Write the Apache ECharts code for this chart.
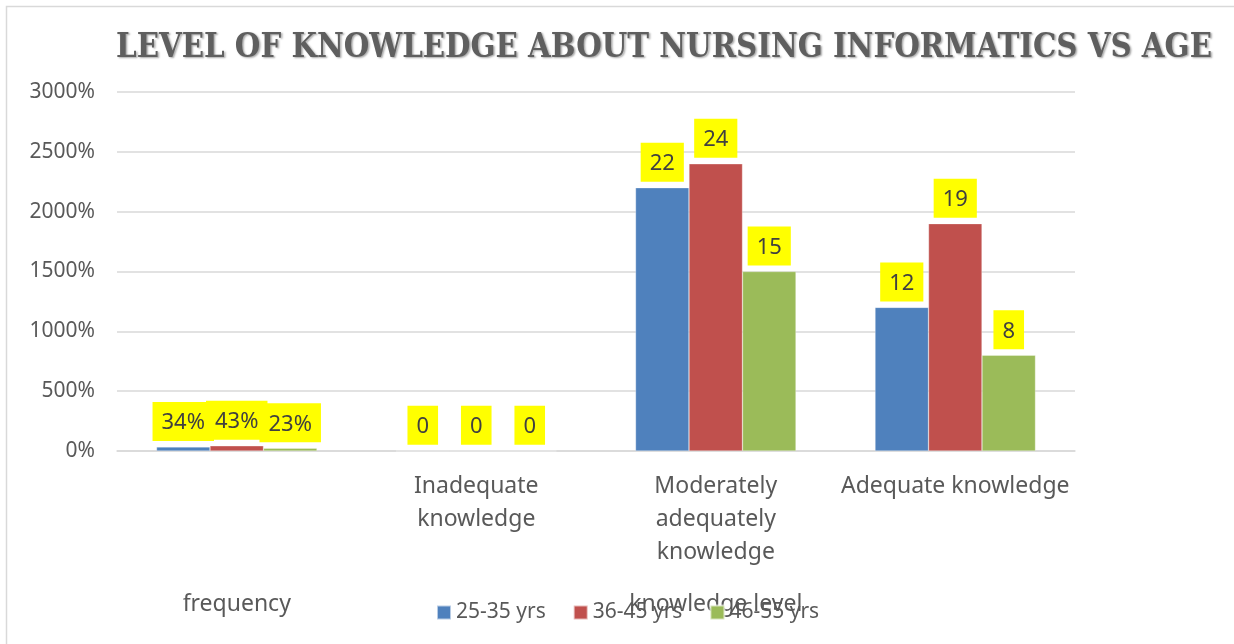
<!DOCTYPE html>
<html>
<head>
<meta charset="utf-8">
<script src="https://cdn.jsdelivr.net/npm/echarts@6/dist/echarts.min.js"></script>
<style>
  html, body { margin: 0; padding: 0; background: #fff; }
  #main { width: 1234px; height: 644px; }
</style>
</head>
<body>
<div id="main"></div>
<script>
// 数据
var categories = ['', 'Inadequate\nknowledge', 'Moderately\nadequately\nknowledge', 'Adequate knowledge'];
var groupLabels = ['frequency', '', 'knowledge level', ''];
var seriesNames = ['25-35 yrs', '36-45 yrs', '46-55 yrs'];
var age25to35 = [0.34, 0, 22, 12];
var age36to45 = [0.43, 0, 24, 19];
var age46to55 = [0.23, 0, 15, 8];

var colors = ['#4F81BD', '#C0504D', '#9BBB59'];
var textColor = '#595959';

var myChart = echarts.init(document.getElementById('main'));

// 第一组是百分比, 其他是人数
function labelText(p) {
    if (p.dataIndex === 0) return Math.round(p.value * 100) + '%';
    return String(p.value);
}

function makeSeries(name, data) {
    return {
        name: name,
        type: 'bar',
        data: data,
        barGap: '0%',
        barCategoryGap: '33%',
        itemStyle: { borderColor: 'rgba(255,255,255,0.6)', borderWidth: 0.5 },
        label: {
            show: true,
            position: 'top',
            distance: 6,
            formatter: labelText,
            backgroundColor: '#FFFF00',
            padding: [10, 9, 7, 9],
            color: '#404040',
            fontSize: 22,
            fontFamily: 'Noto Sans'
        }
    };
}

var option = {
    backgroundColor: '#fff',
    color: colors,
    textStyle: { fontFamily: 'Noto Sans', color: textColor },
    title: {
        text: 'LEVEL OF KNOWLEDGE ABOUT NURSING INFORMATICS VS AGE',
        left: 659,
        textAlign: 'center',
        top: 27,
        textStyle: {
            fontFamily: 'DejaVu Serif Condensed',
            fontWeight: 'bold',
            fontSize: 32.6,
            color: '#5f5f5f',
            textShadowColor: 'rgba(0,0,0,0.35)',
            textShadowBlur: 2,
            textShadowOffsetX: 1.5,
            textShadowOffsetY: 1.5
        }
    },
    legend: {
        data: seriesNames,
        left: 431,
        top: 597,
        itemWidth: 14,
        itemHeight: 14,
        itemGap: 27,
        icon: 'rect',
        textStyle: { fontSize: 21, color: textColor, fontFamily: 'Noto Sans' }
    },
    grid: {
        left: 117,
        right: 159,
        top: 92,
        bottom: 193
    },
    xAxis: [
        {
            type: 'category',
            data: categories,
            axisLine: { lineStyle: { color: '#D9D9D9', width: 1.5 } },
            axisTick: { show: false },
            axisLabel: {
                interval: 0,
                margin: 19,
                fontSize: 23,
                lineHeight: 33,
                color: textColor
            }
        },
        {
            type: 'category',
            position: 'bottom',
            offset: 134,
            data: groupLabels,
            axisLine: { show: false },
            axisTick: { show: false },
            axisLabel: { interval: 0, fontSize: 23, color: textColor }
        }
    ],
    yAxis: {
        type: 'value',
        min: 0,
        max: 30,
        interval: 5,
        axisLine: { show: false },
        axisTick: { show: false },
        splitLine: { lineStyle: { color: '#D9D9D9', width: 1.5 } },
        axisLabel: {
            margin: 22,
            fontSize: 21,
            color: textColor,
            formatter: function (v) { return Math.round(v * 100) + '%'; }
        }
    },
    graphic: [{
        type: 'rect',
        shape: { x: 6.5, y: 6.5, width: 1400, height: 800 },
        style: { fill: 'none', stroke: '#D9D9D9', lineWidth: 1.5 },
        silent: true
    }],
    series: [
        makeSeries(seriesNames[0], age25to35),
        makeSeries(seriesNames[1], age36to45),
        makeSeries(seriesNames[2], age46to55)
    ]
};

myChart.setOption(option);
</script>
</body>
</html>
